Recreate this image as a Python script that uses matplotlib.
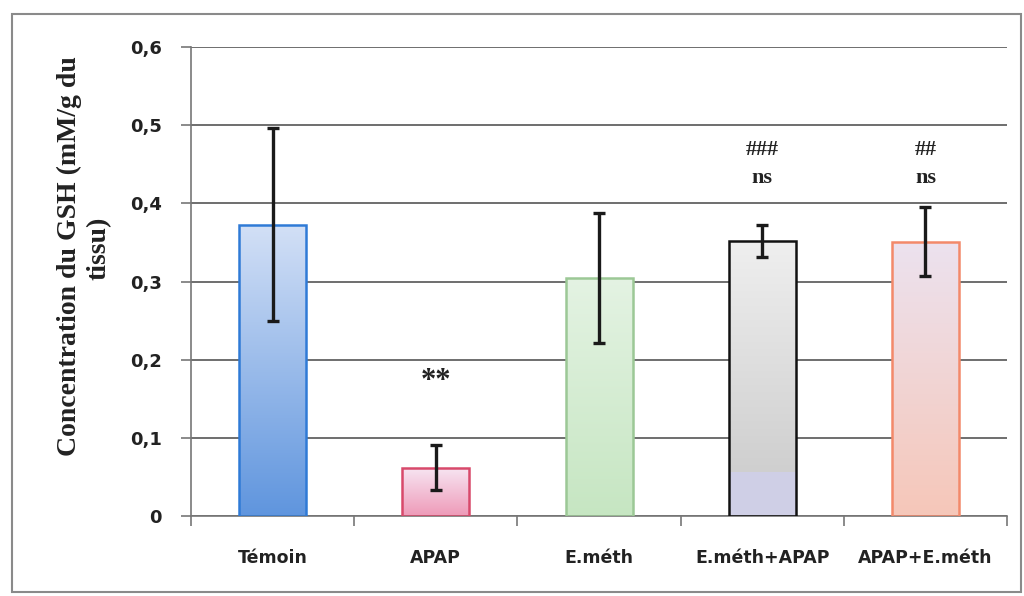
import numpy as np
import matplotlib
matplotlib.use("Agg")
import matplotlib.pyplot as plt
from matplotlib.colors import LinearSegmentedColormap
from matplotlib.patches import Rectangle

# GSH concentration per group (mean and error)
categories = ["Témoin", "APAP", "E.méth", "E.méth+APAP", "APAP+E.méth"]
means = [0.373, 0.062, 0.305, 0.352, 0.351]
errors = [0.124, 0.029, 0.083, 0.020, 0.044]
stars = ["", "**", "", "", ""]
hashes = ["", "", "", "###", "##"]
vs_control = ["", "", "", "ns", "ns"]
yticks = [0, 0.1, 0.2, 0.3, 0.4, 0.5, 0.6]
ytick_labels = ["0", "0,1", "0,2", "0,3", "0,4", "0,5", "0,6"]

# fill gradients (top colour, bottom colour) and edge colours
grad_top = ["#d3e0f6", "#f7e6f3", "#e4f3e3", "#efefef", "#ece2ef"]
grad_bot = ["#5f95de", "#ee9ab8", "#c6e6c2", "#c9c9c9", "#f6c7b9"]
edges = ["#2f7ad6", "#d8496b", "#9cc896", "#111111", "#f3896a"]

W, H = 1024, 596
fig = plt.figure(figsize=(W / 100, H / 100), dpi=100)
fig.patch.set_facecolor("white")
ax = fig.add_axes([0.1865, 0.134, 0.797, 0.787])

width = 0.41
x = np.arange(len(categories))

for i, (m, e) in enumerate(zip(means, errors)):
    left = x[i] - width / 2
    bar = Rectangle((left, 0), width, m, facecolor="none",
                    edgecolor=edges[i], linewidth=1.8, zorder=3)
    ax.add_patch(bar)
    cmap = LinearSegmentedColormap.from_list("g%d" % i, [grad_bot[i], grad_top[i]])
    grad = np.linspace(0, 1, 256).reshape(-1, 1)
    im = ax.imshow(grad, cmap=cmap, origin="lower", aspect="auto",
                   extent=(left, left + width, 0, m), zorder=2)
    im.set_clip_path(bar)
    if i == 3:
        # lavender band at the foot of the grey bar
        ax.add_patch(Rectangle((left, 0), width, 0.056, facecolor="#cfcfe6",
                               edgecolor="none", zorder=2.5))
    ax.errorbar(x[i], m, yerr=e, color="#1a1a1a", linewidth=2.4,
                capsize=4, capthick=2.4, zorder=4)

serif = dict(fontweight="bold", family="Liberation Serif", color="#222222",
             ha="center", va="center", zorder=5)
for i in range(len(categories)):
    if stars[i]:
        ax.text(x[i], 0.172, stars[i], fontsize=22, **serif)
    if hashes[i]:
        ax.text(x[i], 0.468, hashes[i], fontsize=16, **serif)
    if vs_control[i]:
        ax.text(x[i], 0.433, vs_control[i], fontsize=16, **serif)

ax.set_xlim(-0.5, len(categories) - 0.5)
ax.set_ylim(0, 0.6)
ax.set_yticks(yticks)
ax.set_yticklabels(ytick_labels, fontsize=13, fontweight="bold",
                   family="DejaVu Sans", color="#222222")
ax.set_xticks(x)
ax.set_xticklabels(categories, fontsize=12.5, fontweight="bold",
                   family="DejaVu Sans", color="#222222")
ax.tick_params(axis="x", length=0, pad=24)
ax.set_xticks(np.arange(-0.5, len(categories), 1.0), minor=True)
ax.tick_params(axis="x", which="minor", length=7, color="#777777", width=1.2)
ax.tick_params(axis="y", length=7, color="#777777", width=1.2, pad=14)

ax.yaxis.grid(True, color="#555555", linewidth=1.2, zorder=0)
ax.set_axisbelow(True)
for side in ["top", "right"]:
    ax.spines[side].set_visible(False)
for side in ["left", "bottom"]:
    ax.spines[side].set_color("#777777")
    ax.spines[side].set_linewidth(1.2)

# y-axis title on two lines, drawn at figure level
title_kw = dict(fontsize=20, fontweight="bold", family="Liberation Serif",
                color="#222222", rotation=90, rotation_mode="anchor",
                ha="center", va="baseline", transform=fig.transFigure)
fig.text(76 / W, 1 - 256 / H, "Concentration du GSH (mM/g du", **title_kw)
fig.text(106 / W, 1 - 248 / H, "tissu)", **title_kw)

# outer frame around the whole chart
fig.add_artist(Rectangle((12 / W, 4 / H), 1009 / W, 578 / H,
                         transform=fig.transFigure, facecolor="none",
                         edgecolor="#8a8a8a", linewidth=1.5))

fig.savefig("out.png", dpi=100, facecolor="white")
